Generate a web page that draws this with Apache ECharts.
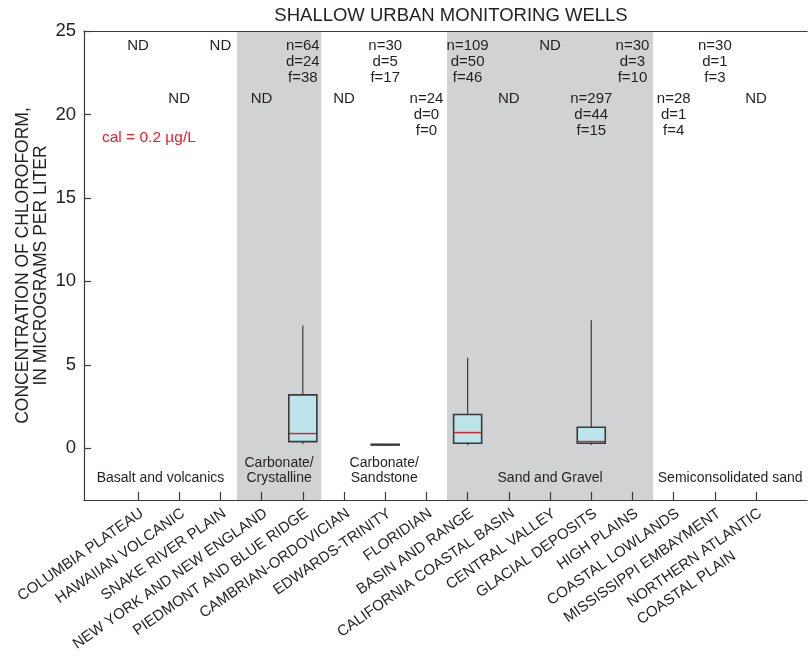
<!DOCTYPE html>
<html>
<head>
<meta charset="utf-8">
<script src="https://cdn.jsdelivr.net/npm/echarts@6/dist/echarts.min.js"></script>
<style>
  html, body { margin: 0; padding: 0; background: #fff; }
  #chart { width: 808px; height: 663px; }
</style>
</head>
<body>
<div id="chart"></div>
<script>
// Principal aquifers / urban land-use networks
const categories = [
  'COLUMBIA PLATEAU', 'HAWAIIAN VOLCANIC', 'SNAKE RIVER PLAIN', 'NEW YORK AND NEW ENGLAND',
  'PIEDMONT AND BLUE RIDGE', 'CAMBRIAN-ORDOVICIAN', 'EDWARDS-TRINITY', 'FLORIDIAN',
  'BASIN AND RANGE', 'CALIFORNIA COASTAL BASIN', 'CENTRAL VALLEY', 'GLACIAL DEPOSITS',
  'HIGH PLAINS', 'COASTAL LOWLANDS', 'MISSISSIPPI EMBAYMENT', 'NORTHERN ATLANTIC\nCOASTAL PLAIN'
];

// n = wells sampled, d = detections at or above cal, f = detections below cal (null = ND)
const nWells   = [null, null, null, null, 64, null, 30, 24, 109, null, null, 297, 30, 28, 30, null];
const nDetect  = [null, null, null, null, 24, null,  5,  0,  50, null, null,  44,  3,  1,  1, null];
const nBelow   = [null, null, null, null, 38, null, 17,  0,  46, null, null,  15, 10,  4,  3, null];

// Box plot statistics (micrograms per liter) for networks with enough detections
const boxCategory = [5, 7, 9, 12];
const boxLow      = [0.25, 0.14, 0.18, 0.20];
const boxQ1       = [0.40, 0.20, 0.30, 0.30];
const boxMedian   = [0.88, 0.20, 0.94, 0.40];
const boxQ3       = [3.20, 0.24, 2.02, 1.26];
const boxHigh     = [7.35, 0.24, 5.42, 7.67];

// Hydrogeologic groups, bounded on the category scale
const groupNames  = ['Basalt and volcanics', 'Carbonate/\nCrystalline', 'Carbonate/\nSandstone', 'Sand and Gravel', 'Semiconsolidated sand'];
const groupEdges  = [-0.31, 3.4, 5.45, 8.5, 13.5, 17.24];
const groupShaded = [false, true, false, true, false];

const yTicks = [0, 5, 10, 15, 20, 25];
const catTicks = categories.map((_, i) => i + 1);
// label anchors sit a little to the right of each tick; blank guard slots at both ends
// keep the axis from dropping a crowded end label
const LABEL_SHIFT = 0.1;
const catLabelAt = [-0.3].concat(catTicks.map(v => v + LABEL_SHIFT), [17.2]);

const FONT = '"Liberation Sans", Arial, Helvetica, sans-serif';
const INK = '#231f20';
const LABEL_PX = 15;

// two-line labels: the first line sits on the anchor like a single-line label,
// and the shorter line is padded so both lines share a left edge
const ctx = document.createElement('canvas').getContext('2d');
ctx.font = LABEL_PX + 'px ' + FONT;
function stackLines(t) {
  const lines = t.split('\n');
  const widths = lines.map(s => ctx.measureText(s).width);
  const maxW = Math.max.apply(null, widths);
  const sp = ctx.measureText(' ').width;
  const padded = lines.map((s, i) => s + ' '.repeat(Math.round((maxW - widths[i]) / sp)));
  return ' \n' + padded.join('\n');
}

const chart = echarts.init(document.getElementById('chart'), null, { renderer: 'canvas' });

const boxData = boxCategory.map((c, i) => [c, boxLow[i], boxQ1[i], boxMedian[i], boxQ3[i], boxHigh[i]]);
const noteData = categories.map((_, i) => [i + 1, i % 2]);
const groupData = groupNames.map((_, i) => [(groupEdges[i] + groupEdges[i + 1]) / 2, i]);
const bandData = groupShaded.map((s, i) => s ? [groupEdges[i], groupEdges[i + 1]] : null).filter(Boolean);

const axisStroke = { color: '#3a3a3a', width: 1.2 };

chart.setOption({
  animation: false,
  textStyle: { fontFamily: FONT, color: INK },
  title: {
    text: 'SHALLOW URBAN MONITORING WELLS',
    left: 446, top: 1, textAlign: 'center',
    textStyle: { fontFamily: FONT, fontSize: 18.5, fontWeight: 'normal', color: INK }
  },
  grid: { left: 84, right: 0, top: 31, bottom: 163, containLabel: false },
  xAxis: [{
    type: 'value', min: -0.31, max: 17.24, z: 5,
    splitLine: { show: false },
    axisLine: { show: true, onZero: false, lineStyle: axisStroke },
    axisTick: { show: true, inside: true, length: 8, customValues: catTicks, lineStyle: axisStroke },
    axisLabel: {
      show: true, customValues: catLabelAt, rotate: 35, margin: 12, hideOverlap: false,
      fontSize: LABEL_PX, fontFamily: FONT, color: INK, lineHeight: 20,
      formatter: v => {
        const t = categories[Math.round(v - LABEL_SHIFT) - 1];
        if (t === undefined || Math.abs(v - Math.round(v - LABEL_SHIFT) - LABEL_SHIFT) > 1e-6) return '';
        return t.indexOf('\n') < 0 ? t : stackLines(t);
      }
    }
  }, {
    type: 'value', position: 'top', min: -0.31, max: 17.24, z: 5,
    splitLine: { show: false },
    axisLine: { show: true, onZero: false, lineStyle: axisStroke },
    axisTick: { show: false }, axisLabel: { show: false }
  }],
  yAxis: {
    type: 'value', min: -3.1, max: 25, z: 5,
    name: 'CONCENTRATION OF CHLOROFORM,\nIN MICROGRAMS PER LITER',
    nameLocation: 'middle', nameGap: 34, nameMoveOverlap: false,
    nameTextStyle: { fontFamily: FONT, fontSize: 17.5, lineHeight: 18, color: INK },
    splitLine: { show: false },
    axisLine: { show: true, onZero: false, lineStyle: axisStroke },
    axisTick: { show: true, inside: true, length: 7, customValues: yTicks, lineStyle: axisStroke },
    axisLabel: { customValues: yTicks, margin: 8, fontSize: 18.5, fontFamily: FONT, color: INK }
  },
  graphic: [{
    type: 'text', left: 102, top: 130,
    style: { text: 'cal = 0.2 \u00b5g/L', font: '15.5px ' + FONT, fill: '#e8202a' }
  }],
  series: [
    {
      // shaded group bands
      type: 'custom', z: 1, silent: true,
      data: bandData,
      renderItem: (params, api) => {
        const cs = params.coordSys;
        const x0 = api.coord([api.value(0), 0])[0];
        const x1 = api.coord([api.value(1), 0])[0];
        return { type: 'rect', shape: { x: x0, y: cs.y, width: x1 - x0, height: cs.height }, style: { fill: '#d1d2d4' } };
      }
    },
    {
      // box plots without whisker caps
      type: 'custom', z: 3, silent: true,
      data: boxData,
      encode: { x: 0, y: [1, 2, 3, 4, 5] },
      renderItem: (params, api) => {
        const x = api.value(0);
        const pLow = api.coord([x, api.value(1)]);
        const pQ1 = api.coord([x, api.value(2)]);
        const pMed = api.coord([x, api.value(3)]);
        const pQ3 = api.coord([x, api.value(4)]);
        const pHigh = api.coord([x, api.value(5)]);
        const w = api.size([0.68, 0])[0];
        const cx = pQ1[0];
        const stroke = '#3a3a3a';
        const boxShape = { x: cx - w / 2, y: pQ3[1], width: w, height: Math.max(pQ1[1] - pQ3[1], 0.5) };
        return {
          type: 'group',
          children: [
            { type: 'line', shape: { x1: cx, y1: pHigh[1], x2: cx, y2: pLow[1] }, style: { stroke, lineWidth: 1.2 } },
            { type: 'rect', shape: boxShape, style: { fill: '#bde3eb', stroke: null } },
            { type: 'line', shape: { x1: cx - w / 2, y1: pMed[1], x2: cx + w / 2, y2: pMed[1] },
              style: { stroke: '#e8202a', lineWidth: 1.5 } },
            { type: 'rect', shape: boxShape, style: { fill: null, stroke, lineWidth: 1.6 } }
          ]
        };
      }
    },
    {
      // sample counts / ND notes along the top
      type: 'custom', z: 4, silent: true,
      data: noteData,
      renderItem: (params, api) => {
        const i = api.value(0) - 1;
        const row = api.value(1);
        const cs = params.coordSys;
        const x = api.coord([api.value(0), 0])[0];
        const text = nWells[i] === null ? 'ND' : 'n=' + nWells[i] + '\nd=' + nDetect[i] + '\nf=' + nBelow[i];
        return {
          type: 'text',
          style: { x, y: cs.y + (row === 0 ? 6.5 : 60), text, align: 'center', verticalAlign: 'top',
                   font: '15px ' + FONT, lineHeight: 16, fill: INK }
        };
      }
    },
    {
      // hydrogeologic group names above the axis
      type: 'custom', z: 4, silent: true,
      data: groupData,
      renderItem: (params, api) => {
        const p = api.coord([api.value(0), 0]);
        const cs = params.coordSys;
        return {
          type: 'text',
          style: { x: p[0], y: cs.y + cs.height - 14, text: groupNames[api.value(1)], align: 'center', verticalAlign: 'bottom',
                   font: '14px ' + FONT, lineHeight: 15, fill: INK }
        };
      }
    }
  ]
});
</script>
</body>
</html>
